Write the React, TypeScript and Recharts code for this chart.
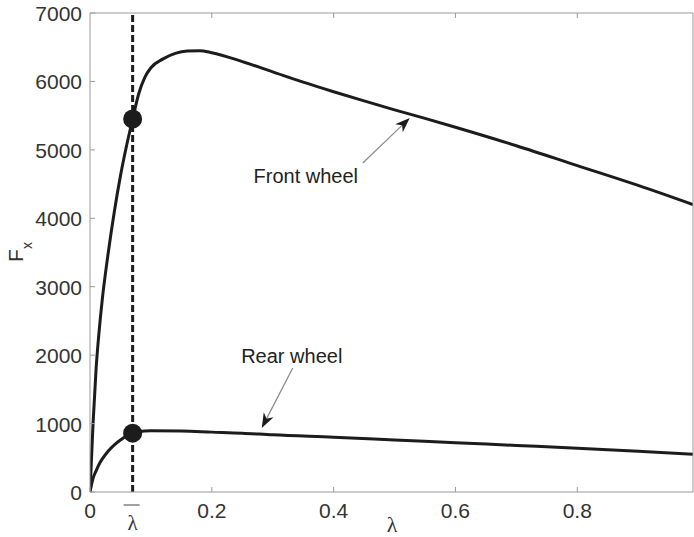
import React from 'react';
import { LineChart, Line, XAxis, YAxis, ReferenceLine, ReferenceDot, Label } from 'recharts';

const FRONT_LAMBDA = [0, 0.005, 0.01, 0.015, 0.02, 0.03, 0.04, 0.05, 0.06, 0.07, 0.08, 0.09, 0.1, 0.12, 0.14, 0.16, 0.18, 0.2, 0.25, 0.3, 0.35, 0.4, 0.45, 0.5, 0.55, 0.6, 0.7, 0.8, 0.9, 0.99];
const FRONT_FX = [0, 1000, 1800, 2350, 2800, 3500, 4100, 4620, 5060, 5450, 5820, 6060, 6200, 6330, 6410, 6445, 6450, 6420, 6290, 6140, 5990, 5850, 5715, 5585, 5460, 5330, 5060, 4770, 4480, 4200];

const REAR_LAMBDA = [0, 0.005, 0.01, 0.016, 0.02, 0.03, 0.04, 0.05, 0.06, 0.07, 0.08, 0.1, 0.15, 0.2, 0.25, 0.3, 0.4, 0.5, 0.6, 0.7, 0.8, 0.9, 0.99];
const REAR_FX = [0, 200, 310, 424, 480, 600, 690, 760, 820, 860, 885, 895, 890, 875, 860, 835, 800, 760, 720, 680, 640, 595, 550];

const X_TICKS = [0, 0.07, 0.2, 0.4, 0.6, 0.8];
const Y_TICKS = [0, 1000, 2000, 3000, 4000, 5000, 6000, 7000];
const TOP_TICKS = [0.2, 0.4, 0.6, 0.8];
const RIGHT_TICKS = [1000, 2000, 3000, 4000, 5000, 6000];

const LAMBDA_BAR = 0.07;
const FRONT_POINT = 5450;
const REAR_POINT = 860;

const frontData = FRONT_LAMBDA.map((l, i) => ({ lambda: l, fx: FRONT_FX[i] }));
const rearData = REAR_LAMBDA.map((l, i) => ({ lambda: l, fx: REAR_FX[i] }));

const FONT = '"Liberation Sans", Arial, sans-serif';
const AXIS = '#9a9a9a';
const INK = '#1c1c1c';

function BottomTick(props: any) {
  const { x, y, payload } = props;
  if (payload.value === LAMBDA_BAR) {
    return (
      <g>
        <line x1={x - 9} x2={x + 7} y1={y + 13} y2={y + 13} stroke="#444" strokeWidth={1} />
        <text x={x} y={y + 38} textAnchor="middle" fontFamily='"Liberation Serif", serif' fontSize={21} fill="#333">λ</text>
      </g>
    );
  }
  return (
    <g>
      <line x1={x} x2={x} y1={y} y2={y - 5} stroke={AXIS} />
      <text x={x} y={y + 26} textAnchor="middle" fontFamily={FONT} fontSize={21} fill="#333">{payload.value}</text>
    </g>
  );
}

function LeftTick(props: any) {
  const { x, y, payload } = props;
  return (
    <g>
      <line x1={x} x2={x + 5} y1={y} y2={y} stroke={AXIS} />
      <text x={x - 8} y={y + 8} textAnchor="end" fontFamily={FONT} fontSize={21} fill="#333">{payload.value}</text>
    </g>
  );
}

function TopTick(props: any) {
  const { x, y } = props;
  return <line x1={x} x2={x} y1={y} y2={y + 5} stroke={AXIS} />;
}

function RightTick(props: any) {
  const { x, y } = props;
  return <line x1={x} x2={x - 5} y1={y} y2={y} stroke={AXIS} />;
}

function arrow(cx: number, cy: number, dx: number, dy: number) {
  const len = Math.hypot(dx, dy);
  const ux = dx / len;
  const uy = dy / len;
  const nx = -uy;
  const ny = ux;
  const L = 15;
  const W = 5.5;
  const pts = [
    [cx, cy],
    [cx + ux * L + nx * W, cy + uy * L + ny * W],
    [cx + ux * L * 0.7, cy + uy * L * 0.7],
    [cx + ux * L - nx * W, cy + uy * L - ny * W],
  ];
  return (
    <g>
      <line x1={cx + dx} y1={cy + dy} x2={cx + ux * 10} y2={cy + uy * 10} stroke="#888" strokeWidth={1.2} />
      <polygon points={pts.map((p) => p.join(',')).join(' ')} fill={INK} />
    </g>
  );
}

const frontNote = (p: any) => (
  <g>
    {arrow(p.cx, p.cy, -47, 45)}
    <text x={p.cx - 104} y={p.cy + 65} textAnchor="middle" fontFamily={FONT} fontSize={20} fill="#222">Front wheel</text>
  </g>
);

const rearNote = (p: any) => (
  <g>
    {arrow(p.cx, p.cy, 31, -60)}
    <text x={p.cx + 30} y={p.cy - 65} textAnchor="middle" fontFamily={FONT} fontSize={20} fill="#222">Rear wheel</text>
  </g>
);

const fxLabel = () => (
  <text x={23} y={252} transform="rotate(-90, 23, 252)" textAnchor="middle" fontFamily={FONT} fontSize={21} fill="#333">
    <tspan>F</tspan>
    <tspan dy={9} fontSize={14}>x</tspan>
  </text>
);

const lambdaLabel = () => (
  <text x={392} y={532} textAnchor="middle" fontFamily='"Liberation Serif", serif' fontSize={22} fill="#333">λ</text>
);

export default function App() {
  return (
    <div style={{ position: 'absolute', left: 0, top: 0, background: '#fff' }}>
      <LineChart width={694} height={537} margin={{ top: 0, right: 0, bottom: 0, left: 0 }}>
        <XAxis
          dataKey="lambda"
          type="number"
          domain={[0, 0.99]}
          allowDataOverflow
          ticks={X_TICKS}
          interval={0}
          tickSize={0}
          tickMargin={0}
          height={45}
          stroke={AXIS}
          tick={BottomTick}
        >
          <Label position="bottom" content={lambdaLabel} />
        </XAxis>
        <XAxis xAxisId="top" orientation="top" dataKey="lambda" type="number" domain={[0, 0.99]} allowDataOverflow ticks={TOP_TICKS} interval={0} tickSize={0} tickMargin={0} height={13} stroke={AXIS} tick={TopTick} />
        <YAxis
          type="number"
          domain={[0, 7000]}
          ticks={Y_TICKS}
          interval={0}
          tickSize={0}
          tickMargin={0}
          width={90}
          stroke={AXIS}
          tick={LeftTick}
        >
          <Label content={fxLabel} />
        </YAxis>
        <YAxis yAxisId="right" orientation="right" type="number" domain={[0, 7000]} ticks={RIGHT_TICKS} interval={0} tickSize={0} tickMargin={0} width={1} stroke={AXIS} tick={RightTick} />
        <ReferenceLine x={LAMBDA_BAR} stroke={INK} strokeWidth={3} strokeDasharray="7 3" />
        <Line data={frontData} dataKey="fx" type="monotone" stroke={INK} strokeWidth={3} dot={false} isAnimationActive={false} />
        <Line data={rearData} dataKey="fx" type="monotone" stroke={INK} strokeWidth={3} dot={false} isAnimationActive={false} />
        <ReferenceDot x={LAMBDA_BAR} y={FRONT_POINT} r={9.5} fill={INK} stroke="none" />
        <ReferenceDot x={LAMBDA_BAR} y={REAR_POINT} r={9.5} fill={INK} stroke="none" />
        <ReferenceDot x={0.525} y={5466} r={0} shape={frontNote} />
        <ReferenceDot x={0.282} y={935} r={0} shape={rearNote} />
      </LineChart>
    </div>
  );
}
